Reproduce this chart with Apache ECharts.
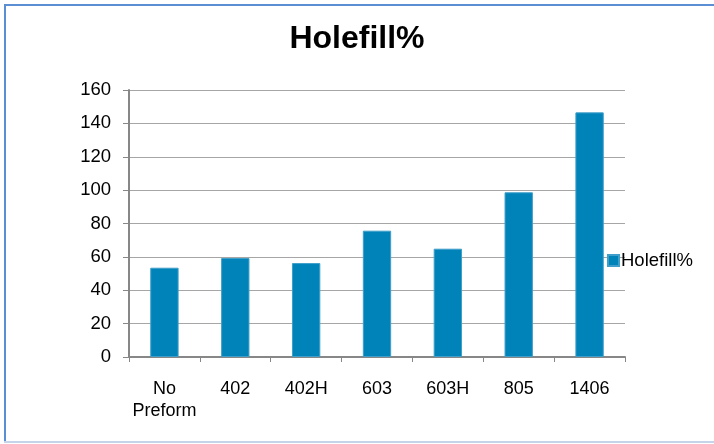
<!DOCTYPE html>
<html>
<head>
<meta charset="utf-8">
<script src="https://cdn.jsdelivr.net/npm/echarts@6/dist/echarts.min.js"></script>
<style>html,body{margin:0;padding:0;background:#fff;}#c{width:714px;height:444px;}</style>
</head>
<body>
<div id="c"></div>
<script>
const categories = ['No\nPreform', '402', '402H', '603', '603H', '805', '1406'];
const holefill = [53.5, 59.3, 56.3, 75.7, 64.9, 98.7, 146.6];
const seriesName = 'Holefill%';
const titleText = 'Holefill%';

const chart = echarts.init(document.getElementById('c'), null, {renderer: 'canvas'});
const font = '"Liberation Sans", Arial, sans-serif';
chart.setOption({
  animation: false,
  backgroundColor: '#ffffff',
  title: {
    text: titleText, left: 'center', top: 18,
    textStyle: {fontFamily: font, fontSize: 32, fontWeight: 'bold', color: '#000'}
  },
  legend: {
    left: 602, top: 246, itemWidth: 11, itemHeight: 11, icon: 'rect',
    textStyle: {fontFamily: font, fontSize: 18.5, color: '#000', padding: [0,0,0,-3]},
    data: [seriesName]
  },
  grid: {left: 129, right: 89, top: 90, bottom: 87, containLabel: false},
  xAxis: {
    type: 'category', data: categories,
    axisLine: {lineStyle: {color: '#878787', width: 2}},
    axisTick: {show: true, length: 5, lineStyle: {color: '#878787'}},
    axisLabel: {fontFamily: font, fontSize: 18, color: '#000', margin: 21, lineHeight: 22, interval: 0}
  },
  yAxis: {
    type: 'value', min: 0, max: 160, interval: 20,
    axisLine: {show: true, lineStyle: {color: '#878787', width: 2}},
    axisTick: {show: true, length: 6, lineStyle: {color: '#878787'}},
    axisLabel: {fontFamily: font, fontSize: 18.5, color: '#000', margin: 18},
    splitLine: {lineStyle: {color: '#a6a6a6', width: 1}}
  },
  series: [{
    name: seriesName, type: 'bar', data: holefill, barWidth: '40%',
    itemStyle: {color: '#0083b9', borderColor: '#3f9fca', borderWidth: 1}
  }],
  graphic: [
    {type: 'line', shape: {x1: 4, y1: 5, x2: 714, y2: 5}, style: {stroke: '#5b8ed2', lineWidth: 2}},
    {type: 'line', shape: {x1: 5, y1: 4, x2: 5, y2: 442}, style: {stroke: '#5b8ed2', lineWidth: 2}},
    {type: 'line', shape: {x1: 4, y1: 442, x2: 714, y2: 442}, style: {stroke: '#c6d4e9', lineWidth: 2}}
  ]
});
</script>
</body>
</html>
